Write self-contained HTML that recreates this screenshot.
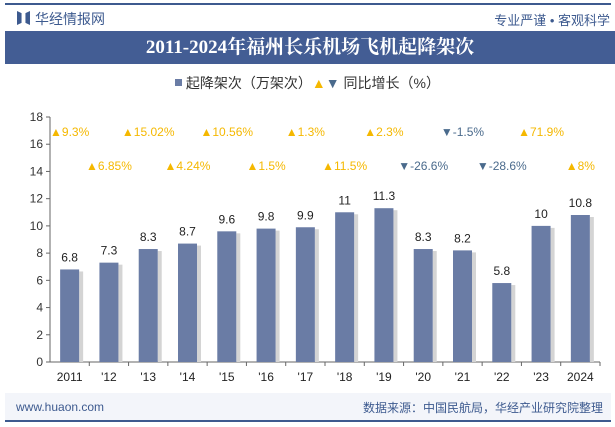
<!DOCTYPE html>
<html><head><meta charset="utf-8">
<style>
body{margin:0;width:615px;height:427px;background:#fff;font-family:"Liberation Sans","Noto Sans CJK SC",sans-serif;overflow:hidden;position:relative}
.abs{position:absolute}
</style></head><body>
<div class="abs" style="left:5px;top:3px;width:606px;height:2px;background:#3d5a8f"></div>
<div class="abs" style="left:17px;top:11px;width:13px;height:14px;background:#3d5a8f;clip-path:polygon(0 0,35% 15%,35% 85%,0 100%,0 0,100% 0,100% 100%,65% 85%,65% 15%,100% 0)"></div>
<div class="abs" style="left:35px;top:9px;font-size:14px;color:#3d5a8f">华经情报网</div>
<div class="abs" style="right:5px;top:10px;font-size:13px;color:#3d5a8f">专业严谨 • 客观科学</div>
<div class="abs" style="left:5px;top:31px;width:514px;height:33px;background:#435d94;color:#fff;font-family:'Liberation Serif','Noto Serif CJK SC',serif;font-weight:bold;font-size:19px;text-align:center;line-height:33px;padding:0 48px">2011-2024年福州长乐机场飞机起降架次</div>
<div class="abs" style="left:0;width:615px;top:73px;text-align:center;font-size:14px;color:#333">
<span><span style="display:inline-block;width:7px;height:7px;background:#6a7ca5;vertical-align:2px"></span> 起降架次（万架次）</span><span><span style="color:#f5b800">▲</span><span style="color:#4a6a8c">▼</span> 同比增长（%）</span></div>
<div class="abs" style="left:5px;top:393px;width:606px;height:27px;background:#f3f5fa"></div>
<div class="abs" style="left:16px;top:400px;font-size:12px;color:#3d5a8f">www.huaon.com</div>
<div class="abs" style="right:12px;top:399px;font-size:12px;color:#3d5a8f">数据来源：中国民航局，华经产业研究院整理</div>
<div class="abs" style="left:5px;top:420px;width:606px;height:2px;background:#3d5a8f"></div>
<svg class="abs" style="left:0;top:0" width="615" height="427" id="chart"></svg>
<script>
const categories=["2011","'12","'13","'14","'15","'16","'17","'18","'19","'20","'21","'22","'23","2024"];
const flights=[6.8,7.3,8.3,8.7,9.6,9.8,9.9,11,11.3,8.3,8.2,5.8,10,10.8];
const growth=[9.3,6.85,15.02,4.24,10.56,1.5,1.3,11.5,2.3,-26.6,-1.5,-28.6,71.9,8];
const growthLabels=["9.3%","6.85%","15.02%","4.24%","10.56%","1.5%","1.3%","11.5%","2.3%","-26.6%","-1.5%","-28.6%","71.9%","8%"];
const yTicks=[0,2,4,6,8,10,12,14,16,18];
const svg=document.getElementById('chart');const NS='http://www.w3.org/2000/svg';
const x0=50,x1=600,yB=362,yT=117,yMax=18;
const band=(x1-x0)/categories.length;
const X=i=>x0+band*(i+0.5);const Y=v=>yB-(v/yMax)*(yB-yT);
function mk(t,a,txt){const e=document.createElementNS(NS,t);for(const k in a)e.setAttribute(k,a[k]);if(txt!==undefined)e.textContent=txt;svg.appendChild(e);return e;}
let e;
e=mk('line',{x1:x0,y1:yT,x2:x0,y2:yB,stroke:'#666'});

e=mk('line',{x1:x0,y1:yB,x2:x1,y2:yB,stroke:'#666'});

yTicks.forEach(v=>{
 e=mk('line',{x1:x0-4,y1:Y(v),x2:x0,y2:Y(v),stroke:'#666'});
 
 e=mk('text',{x:x0-7,y:Y(v)+4,'text-anchor':'end','font-size':12,fill:'#333'},v);
 
});
categories.forEach((c,i)=>{
 const cx=X(i),bw=19,y=Y(flights[i]);
 e=mk('line',{x1:x0+band*(i+1),y1:yB,x2:x0+band*(i+1),y2:yB+4,stroke:'#666'});
 
 e=mk('rect',{x:cx+bw/2,y:y+2,width:4,height:yB-y-2,fill:'#d4d4d4'});
 
 e=mk('rect',{x:cx-bw/2,y:y,width:bw,height:yB-y,fill:'#6a7ca5'});
 
 e=mk('text',{x:cx,y:y-8,'text-anchor':'middle','font-size':12,fill:'#222'},flights[i]);
 
 e=mk('text',{x:cx,y:yB+19,'text-anchor':'middle','font-size':12,fill:'#222'},c);
 
 const up=growth[i]>=0;const gy=i%2===0?136:170;
 e=mk('text',{x:cx,y:gy,'text-anchor':'middle','font-size':12,fill:up?'#f5b800':'#4a6a8c'},(up?'▲':'▼')+growthLabels[i]);
 
});
</script>
</body></html>
